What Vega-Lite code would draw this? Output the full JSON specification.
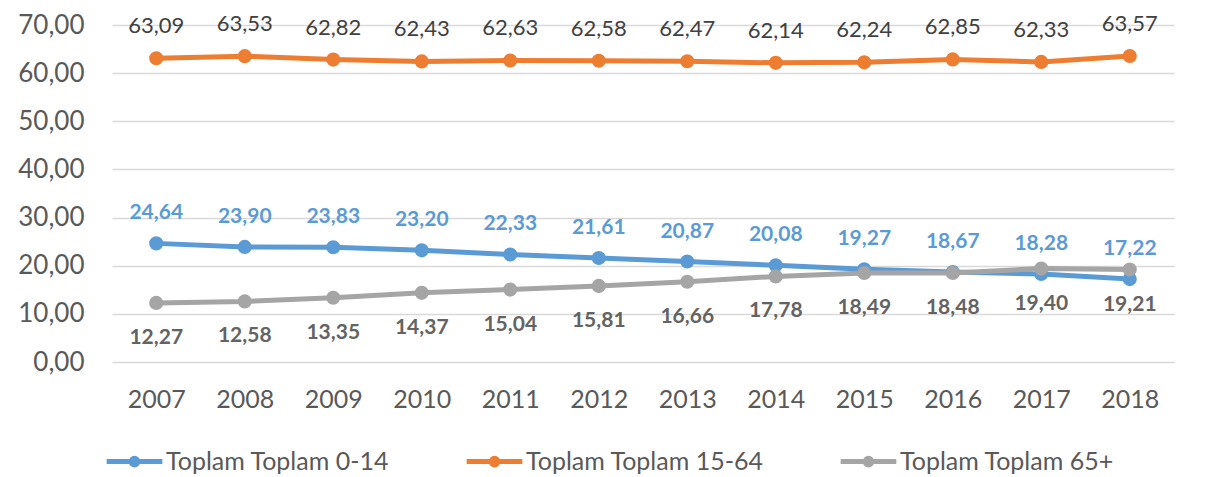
{
  "$schema": "https://vega.github.io/schema/vega-lite/v6.json",
  "width": 1062,
  "height": 337,
  "autosize": {"type": "none"},
  "padding": {"left": 112, "top": 25, "right": 37, "bottom": 115},
  "background": "white",
  "config": {
    "locale": {"number": {"decimal": ",", "thousands": ".", "grouping": [3], "currency": ["", ""]}},
    "font": "Lato",
    "view": {"stroke": null}
  },
  "data": {"values": [
    {"year": "2007", "group": "Toplam Toplam 0-14", "value": 24.64},
    {"year": "2008", "group": "Toplam Toplam 0-14", "value": 23.90},
    {"year": "2009", "group": "Toplam Toplam 0-14", "value": 23.83},
    {"year": "2010", "group": "Toplam Toplam 0-14", "value": 23.20},
    {"year": "2011", "group": "Toplam Toplam 0-14", "value": 22.33},
    {"year": "2012", "group": "Toplam Toplam 0-14", "value": 21.61},
    {"year": "2013", "group": "Toplam Toplam 0-14", "value": 20.87},
    {"year": "2014", "group": "Toplam Toplam 0-14", "value": 20.08},
    {"year": "2015", "group": "Toplam Toplam 0-14", "value": 19.27},
    {"year": "2016", "group": "Toplam Toplam 0-14", "value": 18.67},
    {"year": "2017", "group": "Toplam Toplam 0-14", "value": 18.28},
    {"year": "2018", "group": "Toplam Toplam 0-14", "value": 17.22},
    {"year": "2007", "group": "Toplam Toplam 15-64", "value": 63.09},
    {"year": "2008", "group": "Toplam Toplam 15-64", "value": 63.53},
    {"year": "2009", "group": "Toplam Toplam 15-64", "value": 62.82},
    {"year": "2010", "group": "Toplam Toplam 15-64", "value": 62.43},
    {"year": "2011", "group": "Toplam Toplam 15-64", "value": 62.63},
    {"year": "2012", "group": "Toplam Toplam 15-64", "value": 62.58},
    {"year": "2013", "group": "Toplam Toplam 15-64", "value": 62.47},
    {"year": "2014", "group": "Toplam Toplam 15-64", "value": 62.14},
    {"year": "2015", "group": "Toplam Toplam 15-64", "value": 62.24},
    {"year": "2016", "group": "Toplam Toplam 15-64", "value": 62.85},
    {"year": "2017", "group": "Toplam Toplam 15-64", "value": 62.33},
    {"year": "2018", "group": "Toplam Toplam 15-64", "value": 63.57},
    {"year": "2007", "group": "Toplam Toplam 65+", "value": 12.27},
    {"year": "2008", "group": "Toplam Toplam 65+", "value": 12.58},
    {"year": "2009", "group": "Toplam Toplam 65+", "value": 13.35},
    {"year": "2010", "group": "Toplam Toplam 65+", "value": 14.37},
    {"year": "2011", "group": "Toplam Toplam 65+", "value": 15.04},
    {"year": "2012", "group": "Toplam Toplam 65+", "value": 15.81},
    {"year": "2013", "group": "Toplam Toplam 65+", "value": 16.66},
    {"year": "2014", "group": "Toplam Toplam 65+", "value": 17.78},
    {"year": "2015", "group": "Toplam Toplam 65+", "value": 18.49},
    {"year": "2016", "group": "Toplam Toplam 65+", "value": 18.48},
    {"year": "2017", "group": "Toplam Toplam 65+", "value": 19.40},
    {"year": "2018", "group": "Toplam Toplam 65+", "value": 19.21}
  ]},
  "encoding": {
    "x": {
      "field": "year", "type": "ordinal",
      "scale": {"type": "point", "padding": 0.5},
      "axis": {"title": null, "labelAngle": 0, "domain": false, "ticks": false, "grid": false,
               "labelFontSize": 25, "labelColor": "#595959", "labelPadding": 25, "labelFont": "Lato"}
    },
    "y": {
      "field": "value", "type": "quantitative",
      "scale": {"domain": [0, 70], "nice": false},
      "axis": {"title": null, "values": [0, 10, 20, 30, 40, 50, 60, 70], "format": ".2f",
               "domain": false, "ticks": false, "grid": true, "gridColor": "#d9d9d9", "gridWidth": 1.5,
               "labelFontSize": 26, "labelColor": "#595959", "labelPadding": 28, "labelFont": "Lato"}
    }
  },
  "layer": [
    {
      "mark": {"type": "line", "strokeWidth": 5, "point": {"filled": true, "size": 200}},
      "encoding": {
        "color": {
          "field": "group", "type": "nominal",
          "scale": {"domain": ["Toplam Toplam 0-14", "Toplam Toplam 15-64", "Toplam Toplam 65+"],
                    "range": ["#5b9bd5", "#ed7d31", "#a5a5a5"]},
          "legend": {
            "title": null, "orient": "none", "direction": "horizontal",
            "legendX": -8, "legendY": 406,
            "symbolType": "M-1,0L1,0M0.12,0A0.12,0.12 0 1 1 -0.12,0A0.12,0.12 0 1 1 0.12,0",
            "symbolSize": 3100, "symbolStrokeWidth": 5, "symbolFillColor": "transparent",
            "labelFontSize": 25, "labelColor": "#595959", "labelFont": "Lato",
            "labelOffset": 1, "columnPadding": 66, "labelLimit": 400
          }
        }
      }
    },
    {
      "transform": [{"filter": "datum.group === 'Toplam Toplam 15-64'"}],
      "mark": {"type": "text", "dy": -32, "fontSize": 22, "color": "#404040", "baseline": "middle"},
      "encoding": {"text": {"field": "value", "type": "quantitative", "format": ".2f"}}
    },
    {
      "transform": [{"filter": "datum.group === 'Toplam Toplam 0-14'"}],
      "mark": {"type": "text", "dy": -30, "fontSize": 21, "fontWeight": "bold", "color": "#5b9bd5", "baseline": "middle"},
      "encoding": {"text": {"field": "value", "type": "quantitative", "format": ".2f"}}
    },
    {
      "transform": [{"filter": "datum.group === 'Toplam Toplam 65+'"}],
      "mark": {"type": "text", "dy": 35, "fontSize": 21, "fontWeight": "bold", "color": "#636363", "baseline": "middle"},
      "encoding": {"text": {"field": "value", "type": "quantitative", "format": ".2f"}}
    }
  ]
}
